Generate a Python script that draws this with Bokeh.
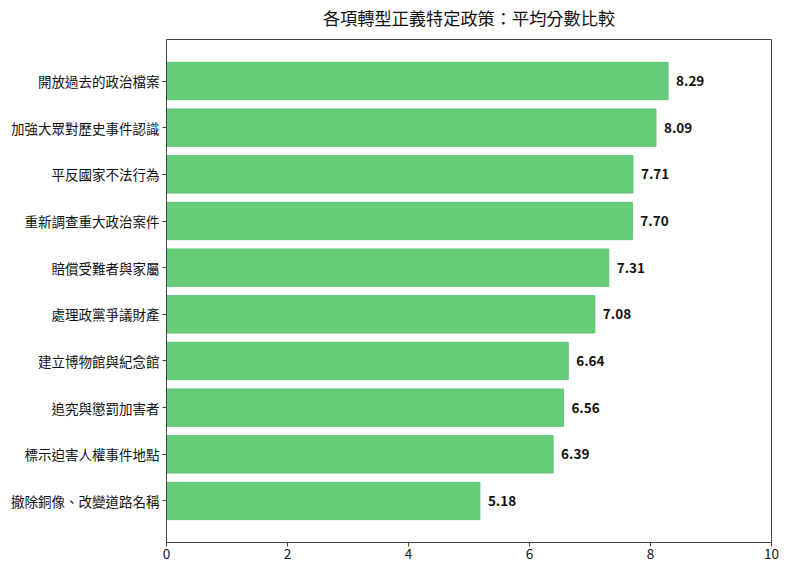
from bokeh.plotting import figure
from bokeh.models import ColumnDataSource, FactorRange, Range1d, FixedTicker
from bokeh.core.properties import value
from bokeh.embed import file_html
from bokeh.resources import INLINE

# data (top to bottom as shown)
policies = [
    "開放過去的政治檔案",
    "加強大眾對歷史事件認識",
    "平反國家不法行為",
    "重新調查重大政治案件",
    "賠償受難者與家屬",
    "處理政黨爭議財產",
    "建立博物館與紀念館",
    "追究與懲罰加害者",
    "標示迫害人權事件地點",
    "撤除銅像、改變道路名稱",
]
scores = [8.29, 8.09, 7.71, 7.70, 7.31, 7.08, 6.64, 6.56, 6.39, 5.18]
x_ticks = [0, 2, 4, 6, 8, 10]
title_text = "各項轉型正義特定政策：平均分數比較"

FONT = "Noto Sans CJK TC"

src = ColumnDataSource(dict(
    policy=policies,
    score=scores,
    label=[f"{s:.2f}" for s in scores],
))

factors = list(reversed(policies))

p = figure(
    width=792, height=578,
    y_range=FactorRange(factors=factors, range_padding=0.39, range_padding_units="absolute"),
    x_range=Range1d(0, 10),
    output_backend="svg", toolbar_location=None,
    min_border_left=166, min_border_right=21, min_border_top=47, min_border_bottom=28,
)
p.styles = {"margin-top": "-8px"}

p.hbar(y="policy", right="score", left=0, height=0.8, source=src,
       fill_color="#66cc7a", line_color="#5cc472", line_width=1)

p.text(x="score", y="policy", text="label", source=src,
       x_offset=8, text_baseline="middle", text_align="left",
       text_font=value(FONT), text_font_style="bold", text_font_size="13.5px",
       text_color="#111111")

# title
p.title.text = title_text
p.title.text_font = FONT
p.title.text_font_size = "17.2px"
p.title.text_font_style = "normal"
p.title.align = "center"
p.title.text_color = "#111111"
p.title.standoff = 20
p.title.offset = -4

# axes
for ax in (p.xaxis[0], p.yaxis[0]):
    ax.axis_line_color = "#444444"
    ax.major_tick_line_color = "#444444"
    ax.major_tick_out = 4
    ax.major_tick_in = 0
    ax.minor_tick_line_color = None
    ax.major_label_text_font = FONT
    ax.major_label_text_font_size = "13.5px"
    ax.major_label_text_color = "#111111"
    ax.major_label_standoff = 2

p.xaxis.ticker = FixedTicker(ticks=x_ticks)
p.yaxis.major_label_standoff = 3

p.grid.visible = False
p.outline_line_color = "#444444"
p.outline_line_width = 1
p.background_fill_color = "white"
p.border_fill_color = "white"

open("out.html", "w").write(file_html(p, INLINE))
